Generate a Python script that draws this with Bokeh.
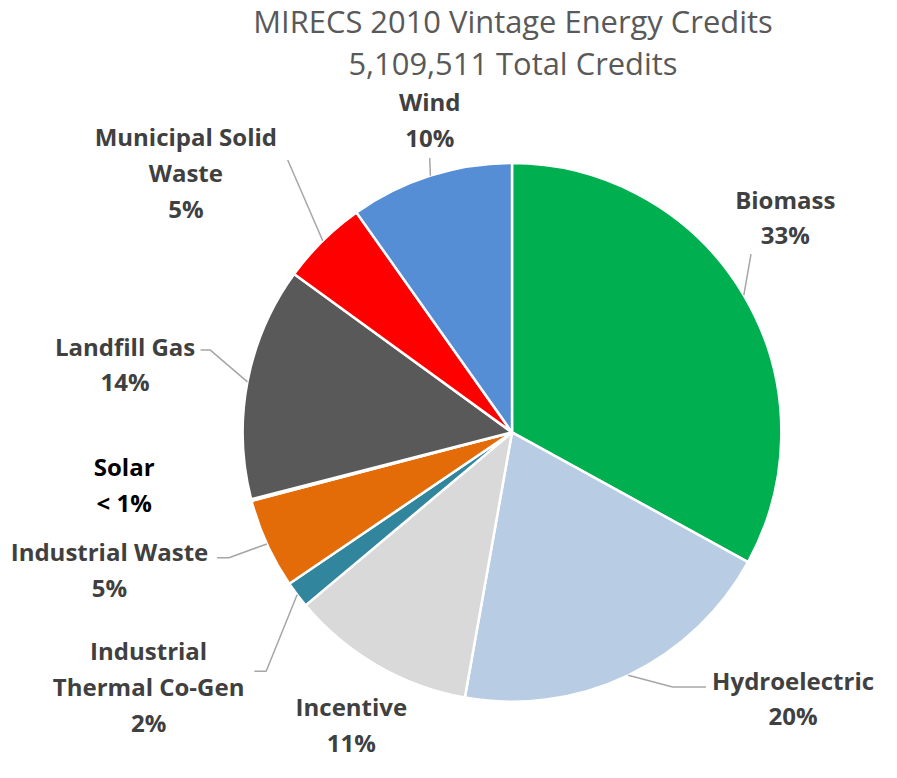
import math
from bokeh.plotting import figure
from bokeh.models import Range1d
from bokeh.core.properties import value
from bokeh.embed import file_html
from bokeh.resources import INLINE

# ---- data (share of 5,109,511 total credits, %) ----
categories = ["Biomass", "Hydroelectric", "Incentive", "Industrial Thermal Co-Gen",
              "Industrial Waste", "Solar", "Landfill Gas", "Municipal Solid Waste", "Wind"]
shares = [33.0, 19.8, 11.1, 1.6, 5.4, 0.1, 14.0, 5.2, 9.8]
colors = ["#00B050", "#B8CCE4", "#D9D9D9", "#31859C", "#E36C09",
          "#FFC000", "#595959", "#FF0000", "#558ED5"]
title_lines = ["MIRECS 2010 Vintage Energy Credits", "5,109,511 Total Credits"]

# ---- layout (reference image pixel coordinates, scaled about centre to fit) ----
W, H = 881, 762
S = H / 778.0
def X(ix): return (ix - 448.5) * S + W / 2
def Y(iy): return H / 2 - (iy - 389) * S + 4

CX, CY, R = 521, 445, 275
FONT = "Open Sans"
LABEL_PX = 24.5 * S
TITLE_PX = 31.5 * S

label_layout = {
    "Biomass": (["Biomass"], 800, 207, [(765, 263)]),
    "Hydroelectric": (["Hydroelectric"], 808, 698, [(685, 705), (719, 705)]),
    "Incentive": (["Incentive"], 357, 725, None),
    "Industrial Thermal Co-Gen": (["Industrial", "Thermal Co-Gen"], 150, 668, [(270, 689), (258, 689)]),
    "Industrial Waste": (["Industrial Waste"], 110, 567, [(232, 573), (220, 573)]),
    "Solar": (["Solar"], 125, 480, None),
    "Landfill Gas": (["Landfill Gas"], 126, 357, [(213, 361), (203, 361)]),
    "Municipal Solid Waste": (["Municipal Solid", "Waste"], 188, 143, [(292, 167)]),
    "Wind": (["Wind"], 437, 107, [(437, 165)]),
}
LINE_H = 36.5

p = figure(width=W, height=H, x_range=Range1d(0, W), y_range=Range1d(0, H),
           output_backend="svg", toolbar_location=None, min_border=0)
p.axis.visible = False
p.grid.visible = False
p.outline_line_color = None
p.background_fill_color = "white"

total = sum(shares)
cum = 0.0
starts, ends, mids = [], [], []
for s in shares:
    a0 = math.pi / 2 - 2 * math.pi * cum / total
    cum += s
    a1 = math.pi / 2 - 2 * math.pi * cum / total
    starts.append(a0)
    ends.append(a1)
    mids.append((a0 + a1) / 2)

p.wedge(x=X(CX), y=Y(CY), radius=R * S, start_angle=starts, end_angle=ends,
        direction="clock", fill_color=colors, line_color="white", line_width=2.5)

# title
for i, t in enumerate(title_lines):
    p.text(x=[X(522)], y=[Y(25 + 43 * i)], text=[t], text_font=value(FONT),
           text_font_size=f"{TITLE_PX:.1f}px", text_color="#595959", text_align="center",
           text_baseline="middle")

# labels and leader lines
for cat, s, mid in zip(categories, shares, mids):
    lines, lx, ly, leader = label_layout[cat]
    pct = "< 1%" if s < 1 else f"{round(s)}%"
    all_lines = lines + [pct]
    col = "#000000" if cat == "Solar" else "#404040"
    for j, ln in enumerate(all_lines):
        p.text(x=[X(lx)], y=[Y(ly + LINE_H * j)], text=[ln], text_font=value(FONT),
               text_font_size=f"{LABEL_PX:.1f}px", text_font_style="bold", text_color=col,
               text_align="center", text_baseline="middle")
    if leader:
        ex = X(CX) + R * S * math.cos(mid)
        ey = Y(CY) + R * S * math.sin(mid)
        xs = [ex] + [X(a) for a, b in leader]
        ys = [ey] + [Y(b) for a, b in leader]
        p.line(xs, ys, line_color="#A6A6A6", line_width=1.5)

open("out.html", "w").write(file_html(p, INLINE))
